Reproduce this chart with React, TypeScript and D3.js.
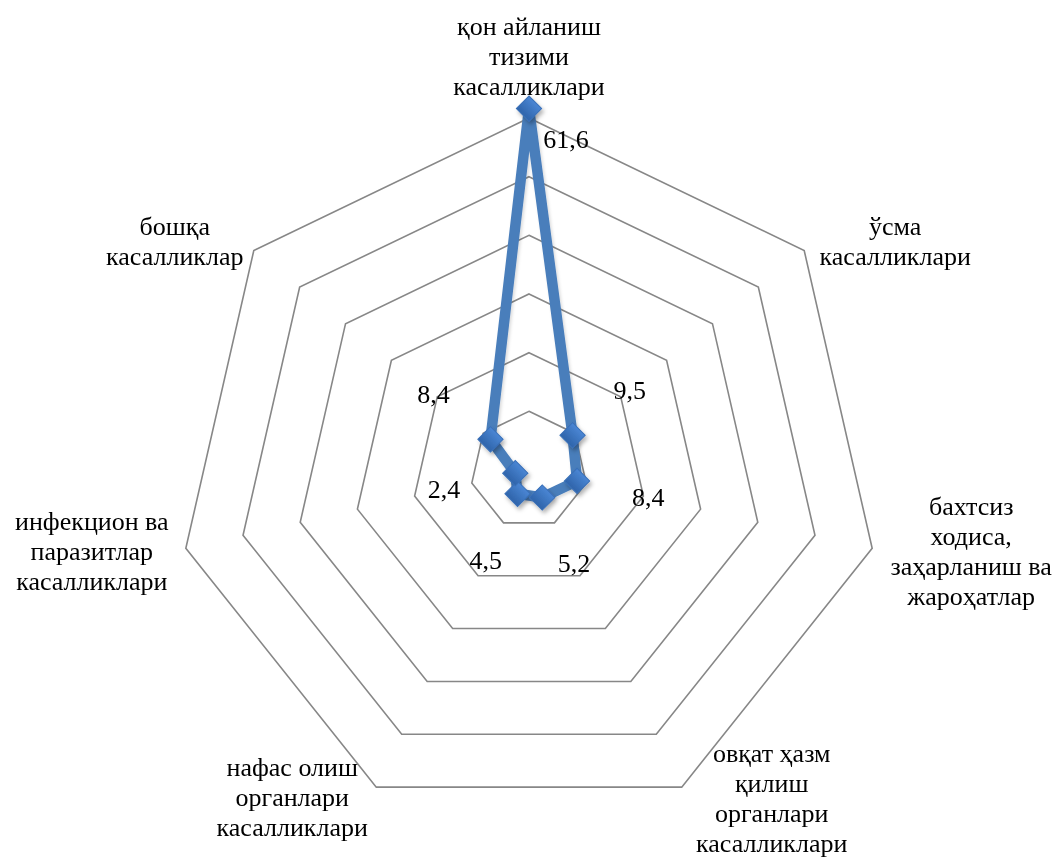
import * as React from "react";
import * as d3 from "d3";

// categories (axis labels, line breaks as in the original)
const categories: string[][] = [
  ["қон айланиш", "тизими", "касалликлари"],
  ["ўсма", "касалликлари"],
  ["бахтсиз", "ходиса,", "заҳарланиш ва", "жароҳатлар"],
  ["овқат ҳазм", "қилиш", "органлари", "касалликлари"],
  ["нафас олиш", "органлари", "касалликлари"],
  ["инфекцион ва", "паразитлар", "касалликлари"],
  ["бошқа", "касалликлар"],
];
const values: number[] = [61.6, 9.5, 8.4, 5.2, 4.5, 2.4, 8.4];
const valueLabels: string[] = ["61,6", "9,5", "8,4", "5,2", "4,5", "2,4", "8,4"];
const ringTicks: number[] = [10, 20, 30, 40, 50, 60];

const WIDTH = 1057;
const HEIGHT = 859;
const FONT = "'Liberation Serif', 'Times New Roman', serif";

export default function App() {
  const cx = 529;
  const cy = 470;
  const radius = 352;
  const n = categories.length;

  const rScale = d3.scaleLinear().domain([0, 60]).range([0, radius]);
  const angle = (i: number) => (i * 2 * Math.PI) / n;
  const pt = (i: number, r: number): [number, number] => [
    cx + r * Math.sin(angle(i)),
    cy - r * Math.cos(angle(i)),
  ];

  const closedLine = d3.line<[number, number]>().curve(d3.curveLinearClosed);

  const rings = ringTicks.map((t) =>
    closedLine(d3.range(n).map((i) => pt(i, rScale(t))))
  );
  const series = closedLine(values.map((v, i) => pt(i, rScale(v))));
  const diamond = d3.symbol().type(d3.symbolSquare).size(320)()!;

  // block placement of the category labels, relative to the outer vertex
  // [dx of block centre, dy of first baseline]
  const labelOffsets: [number, number][] = [
    [0, -83],
    [91, -16],
    [99, -33],
    [90, -25],
    [-84, -11],
    [-94, -18],
    [-79, -16],
  ];
  const lineHeight = 30;

  return (
    <svg
      width={WIDTH}
      height={HEIGHT}
      style={{ position: "absolute", left: 0, top: 0, background: "#fff" }}
      fontFamily={FONT}
    >
      <defs>
        <filter id="shadow" x="-50%" y="-50%" width="200%" height="200%">
          <feDropShadow dx="2" dy="3" stdDeviation="2" floodColor="#000" floodOpacity="0.3" />
        </filter>
        <filter id="lshadow" x="-50%" y="-50%" width="200%" height="200%">
          <feDropShadow dx="1.5" dy="2" stdDeviation="1.5" floodColor="#000" floodOpacity="0.15" />
        </filter>
        <linearGradient id="mk" x1="0" y1="0" x2="0" y2="1">
          <stop offset="0%" stopColor="#4a86d4" />
          <stop offset="100%" stopColor="#2f64aa" />
        </linearGradient>
      </defs>

      <g fill="none" stroke="#878787" strokeWidth={1.6}>
        {rings.map((d, i) => (
          <path key={i} d={d!} />
        ))}
      </g>

      <path
        d={series!}
        fill="none"
        stroke="#4a7ebb"
        strokeWidth={10.5}
        strokeLinejoin="round"
        filter="url(#lshadow)"
      />

      <g filter="url(#shadow)">
        {values.map((v, i) => {
          const [x, y] = pt(i, rScale(v));
          return (
            <path
              key={i}
              d={diamond}
              transform={`translate(${x},${y}) rotate(45)`}
              fill="url(#mk)"
              stroke="#3a70b8"
              strokeWidth={1}
            />
          );
        })}
      </g>

      <g fontSize={26} fill="#000" textAnchor="middle">
        {values.map((v, i) => {
          let [x, y] = pt(i, rScale(v) + 73);
          if (i === 0) {
            const [px, py] = pt(i, rScale(v));
            x = px + 37;
            y = py + 30;
          }
          return (
            <text key={i} x={x} y={y} dy="0.35em">
              {valueLabels[i]}
            </text>
          );
        })}
      </g>

      <g fontSize={26} fill="#000" textAnchor="middle">
        {categories.map((lines, i) => {
          const [vx, vy] = pt(i, radius);
          const [ox, oy] = labelOffsets[i];
          return (
            <text key={i}>
              {lines.map((ln, j) => (
                <tspan key={j} x={vx + ox} y={vy + oy + j * lineHeight}>
                  {ln}
                </tspan>
              ))}
            </text>
          );
        })}
      </g>
    </svg>
  );
}
